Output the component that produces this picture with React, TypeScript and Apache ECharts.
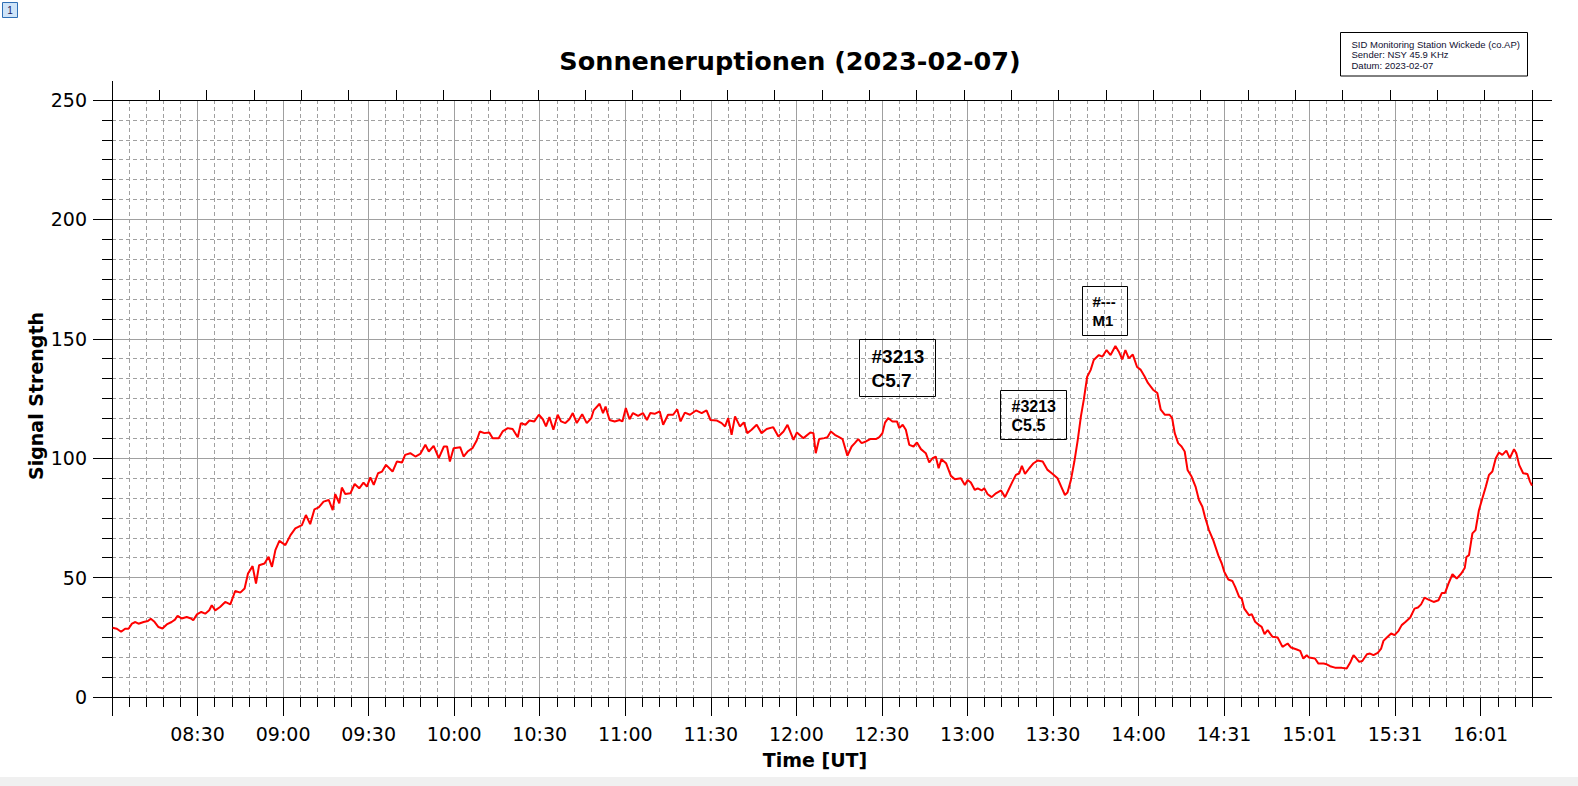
import React, { useEffect, useRef } from "react";
import * as echarts from "echarts";

// minutes after 08:00 UT
const minutesSince0800 = [
  0.2, 1.7, 3.2, 4.6, 5.8, 7, 8.2, 9.3, 11.1, 12.6, 13.6, 14.9, 16.3, 17.7, 19.2, 20.9, 22.1, 23.0, 24.4, 26.2,
  27.7, 28.5, 29.8, 31.3, 32.7, 34.1, 35.0, 36.2, 37.9, 39.7, 41.5, 43.2, 45.0, 46.5, 47.7, 49.3, 50.5, 51.6, 53.5, 54.9,
  56.1, 57.3, 58.7, 60.8, 62.6, 64.3, 66.6, 68.0, 69.5, 71.0, 72.5, 74.2, 76.0, 77.4, 78.3, 79.7, 80.6, 81.8, 83.6, 85.1,
  86.7, 88.2, 89.4, 90.6, 91.8, 93.3, 94.7, 96.1, 98.4, 99.9, 101.7, 102.8, 104.6, 106.4, 108.1, 109.9, 111.1, 112.8, 114.6, 116.4,
  117.5, 118.5, 119.8, 122.1, 123.3, 124.7, 126.4, 127.9, 129.0, 130.6, 132.3, 133.5, 135.6, 137.0, 138.8, 140.5, 142.3, 143.4, 145.0, 146.4,
  148.1, 149.7, 151.1, 152.2, 153.4, 154.8, 156.3, 157.5, 159.0, 160.4, 161.6, 163.0, 164.9, 166.5, 168.1, 168.9, 171.0, 172.2, 173.1, 174.5,
  176.3, 178.0, 179.0, 180.2, 181.5, 182.7, 184.5, 186.2, 187.6, 188.8, 190.3, 192.1, 193.3, 195.0, 196.8, 198.2, 199.4, 200.9, 202.7, 204.8,
  206.8, 208.5, 209.9, 212.0, 213.8, 215.0, 216.1, 217.3, 218.5, 220.2, 221.6, 222.8, 224.3, 226.1, 227.8, 229.6, 231.9, 233.7, 235.5, 236.9,
  239.0, 240.2, 242.5, 244.9, 246.0, 246.8, 248.0, 249.8, 250.9, 252.1, 253.5, 255.0, 256.2, 257.9, 259.4, 260.5, 261.7, 262.9, 264.4, 265.9,
  267.9, 269.1, 270.2, 271.1, 272.2, 273.7, 275.3, 276.1, 277.3, 278.4, 279.6, 281.1, 282.3, 283.7, 285.4, 286.6, 287.8, 288.9, 289.9, 290.9,
  292.5, 294.2, 295.6, 297.7, 299.1, 300.1, 301.2, 302.6, 303.6, 305.0, 305.9, 307.1, 308.5, 310.0, 311.8, 313.2, 314.4, 315.8, 317.0, 318.2,
  319.1, 320.2, 321.7, 323.2, 324.6, 326.4, 328.1, 329.9, 331.6, 333.0, 334.2, 335.1, 336.3, 337.5, 338.7, 339.8, 340.8, 342.0, 343.2, 344.3,
  346.1, 347.3, 348.8, 350.2, 351.9, 353.1, 354.3, 355.4, 356.6, 358.0, 359.5, 360.7, 362.1, 363.3, 365.1, 366.6, 367.8, 369.2, 370.9, 371.8,
  372.7, 373.9, 375.1, 376.2, 377.2, 378.6, 380.0, 381.2, 382.4, 383.3, 384.7, 386.2, 388.0, 389.2, 390.1, 391.5, 392.9, 393.9, 395.3, 396.2,
  397.1, 398.8, 399.7, 400.9, 402.3, 403.2, 404.2, 405.3, 407.0, 408.8, 410.5, 412.3, 413.5, 415.5, 416.7, 417.8, 419.0, 419.8, 421.9, 423.1,
  424.9, 426.0, 427.2, 428.9, 431.3, 433.0, 434.2, 435.4, 436.2, 437.4, 438.5, 440.1, 441.2, 442.4, 443.9, 445.1, 445.9, 447.1, 448.6, 449.8,
  451.2, 452.3, 453.7, 455.3, 456.8, 458.0, 459.1, 460.3, 461.7, 463.5, 465.2, 466.4, 467.5, 468.7, 470.1, 471.6, 473.2, 474.4, 475.0, 475.9,
  477.1, 478.2, 479.4, 480.6, 481.8, 482.9, 484.1, 485.3, 486.4, 487.6, 489.0, 490.2, 491.7, 492.5, 493.5, 494.9, 496.4, 497.3, 498.0,
];

const signalStrength = [
  29, 28.6, 27.3, 28.6, 28.6, 30.7, 31.4, 30.7, 31.4, 31.8, 32.8, 31.5, 29.3, 28.7, 30.4, 31.4, 32.4, 34, 32.9, 33.5,
  32.9, 32.1, 34.6, 35.6, 34.9, 36.3, 38.4, 36.3, 37.7, 39.8, 38.8, 44.4, 43.7, 45.4, 51.7, 54.8, 47.5, 55.2, 55.9, 58.7,
  54.5, 61.5, 65.4, 63.6, 67.8, 70.6, 72, 76.2, 72.4, 78.6, 79.4, 81.8, 82.5, 78.3, 85, 81.1, 87.7, 85, 85.3, 89.2,
  87.4, 89.8, 88.1, 92, 88.8, 93.7, 94.4, 97.2, 94.4, 98.6, 98.2, 101.4, 102.1, 100.7, 101.8, 105.6, 102.8, 105.2, 100, 104.9,
  104.9, 98.6, 104.2, 104.6, 100.7, 102.8, 104.2, 107.4, 111.2, 110.5, 110.8, 108.4, 108.4, 111.2, 112.6, 112.2, 108.8, 114.7, 114, 115.8,
  115.4, 118.2, 116.3, 113.3, 117.2, 111.9, 118.2, 115.4, 114.7, 116.3, 118.9, 114.7, 118.4, 114.7, 116.8, 120, 122.8, 118.9, 121.6, 116,
  115.4, 116, 115.4, 121, 116.3, 118.9, 117.7, 118.9, 116, 118.9, 118.6, 119.6, 114, 118.2, 118.2, 120.5, 115.4, 119.1, 118.2, 120,
  118.9, 120, 116, 115.8, 114.7, 113.3, 116.8, 109.8, 117.5, 113.3, 115, 110.5, 111.9, 114, 110.5, 112.2, 113, 109.1, 111.2, 114,
  107.7, 110.8, 108.4, 110.8, 110.5, 102.1, 108, 108.4, 108.8, 111.2, 109.8, 108.8, 108, 101, 104.9, 106.3, 108, 106.3, 107, 108,
  108, 108.8, 110.5, 114.9, 116.8, 115.4, 115.4, 112.6, 114, 111.9, 105.6, 104.9, 106.6, 103.8, 102.1, 98.2, 100, 100.7, 95.8, 99.6,
  97.9, 92.6, 91.2, 91.6, 88.8, 90.9, 89.8, 86.7, 87.4, 86.5, 87.4, 84.9, 83.7, 85.3, 86.5, 83.7, 86.7, 90.2, 93, 93.7,
  96.8, 93.4, 95.8, 97.9, 99, 98.6, 95.1, 93.4, 91.6, 87.8, 84.6, 85.6, 90.9, 98.6, 107.7, 117.5, 124.4, 134.1, 136.9, 141.1,
  143.2, 142.5, 145.3, 143.2, 147, 144.6, 141.4, 145.3, 141.8, 143.4, 138.2, 137.1, 134.3, 131.5, 128.7, 127.3, 120.3, 118.2, 118.2, 116.8,
  110.5, 106.3, 104.9, 102.8, 95.1, 92.3, 88.1, 82.5, 79.7, 75.5, 69.9, 65.7, 59.3, 55.9, 52.4, 49.2, 48.6, 46.1, 41.9, 41.2,
  37, 34.2, 34.7, 31.5, 30.1, 29.4, 26.3, 28, 25.2, 24.9, 21, 22.4, 20.7, 19.9, 19.3, 16.1, 17.5, 16.5, 16.1, 14,
  14, 13.7, 12.9, 12.3, 12.2, 11.9, 14.3, 17.5, 16.5, 14.7, 15.1, 17.9, 18.2, 17.5, 18.5, 20.3, 23.5, 24.9, 26.6, 25.9,
  27.7, 30.1, 31.5, 33.3, 37, 37.5, 38.8, 41.6, 40.8, 39.8, 40.5, 43.6, 43.6, 47.5, 51.4, 49.6, 51.7, 54, 58.6, 59.4,
  68.5, 69.9, 78.3, 83.2, 88.1, 93, 94.4, 100, 102.4, 101.4, 103.2, 100, 103.8, 102.1, 97.2, 93.7, 93.4, 90.2, 88.5,
];

// bottom axis labels, one per 30 minutes starting at 08:30
const xTickLabels = [
  "08:30", "09:00", "09:30", "10:00", "10:30", "11:00", "11:30", "12:00",
  "12:30", "13:00", "13:30", "14:00", "14:31", "15:01", "15:31", "16:01",
];
const xTickValues = xTickLabels.map((_, i) => (i + 1) * 30);
const xMajorTicks = [0, ...xTickValues];

// flare annotation boxes (anchor = top-left corner in data coordinates)
const annotationTimes = [262, 311.3, 340.1];
const annotationValues = [150, 128.6, 172.2];
const annotationLine1 = ["#3213", "#3213", "#---"];
const annotationLine2 = ["C5.7", "C5.5", "M1"];

const infoLines = [
  "SID Monitoring Station Wickede (co.AP)",
  "Sender: NSY 45.9 KHz",
  "Datum: 2023-02-07",
];

const TITLE = "Sonneneruptionen (2023-02-07)";
const Y_NAME = "Signal Strength";
const X_NAME = "Time [UT]";

const BOX_LAYOUT = [
  { w: 76, h: 57, fs: 19, pad: 12, l1: 17, l2: 41 },
  { w: 66, h: 49, fs: 16, pad: 11, l1: 16, l2: 35 },
  { w: 45, h: 49, fs: 15, pad: 10, l1: 15, l2: 34 },
];

const GRID_COLOR = "#a0a0a0";
const DASH = [4, 3];
const FONT = "DejaVu Sans";

export default function App() {
  const ref = useRef<HTMLDivElement>(null);

  useEffect(() => {
    if (!ref.current) return;
    const chart = echarts.init(ref.current, undefined, { renderer: "svg" });
    const data = minutesSince0800.map((t, i) => [t, signalStrength[i]]);

    const axisLine = { show: true, onZero: false, lineStyle: { color: "#000", width: 1 } };
    const solidSplit = {
      show: true,
      showMinLine: false,
      showMaxLine: false,
      lineStyle: { color: GRID_COLOR, width: 1, type: "solid" },
    };
    const dashedSplit = {
      show: true,
      showMinLine: false,
      showMaxLine: false,
      lineStyle: { color: GRID_COLOR, width: 1, type: DASH },
    };

    chart.setOption({
      animation: false,
      backgroundColor: "#ffffff",
      grid: { left: 112, right: 46, top: 100, bottom: 89, containLabel: false },
      xAxis: [
        {
          type: "value",
          min: 0,
          max: 498,
          interval: 30,
          position: "bottom",
          axisLine,
          axisTick: { show: true, length: 19, customValues: xMajorTicks, lineStyle: { color: "#000" } },
          axisLabel: {
            show: true,
            customValues: xTickValues,
            margin: 27,
            fontFamily: FONT,
            fontSize: 19,
            color: "#000",
            formatter: (v: number) => xTickLabels[Math.round(v / 30) - 1] ?? "",
          },
          splitLine: solidSplit,
          z: 3,
        },
        {
          type: "value",
          min: 0,
          max: 498,
          interval: 6,
          position: "bottom",
          axisLine,
          axisTick: { show: true, length: 10, lineStyle: { color: "#000" } },
          axisLabel: { show: false },
          splitLine: dashedSplit,
          z: 2,
        },
        {
          type: "value",
          min: 0,
          max: 30,
          interval: 1,
          position: "top",
          axisLine,
          axisTick: { show: true, length: 10, lineStyle: { color: "#000" } },
          axisLabel: { show: false },
          splitLine: { show: false },
          z: 6,
        },
        {
          type: "value",
          min: 0,
          max: 30,
          interval: 1,
          position: "top",
          axisLine: { show: false, onZero: false },
          axisTick: { show: true, length: 19, customValues: [0], lineStyle: { color: "#000" } },
          axisLabel: { show: false },
          splitLine: { show: false },
          z: 6,
        },
      ],
      yAxis: [
        {
          type: "value",
          min: 0,
          max: 250,
          interval: 50,
          position: "left",
          axisLine,
          axisTick: { show: true, length: 19, lineStyle: { color: "#000" } },
          minorTick: { show: true, splitNumber: 6, length: 10, lineStyle: { color: "#000" } },
          axisLabel: { show: true, margin: 25, fontFamily: FONT, fontSize: 19, color: "#000" },
          splitLine: solidSplit,
          minorSplitLine: { show: true, lineStyle: { color: GRID_COLOR, width: 1, type: DASH } },
          z: 5,
        },
        {
          type: "value",
          min: 0,
          max: 250,
          interval: 50,
          position: "right",
          axisLine,
          axisTick: { show: true, length: 20, lineStyle: { color: "#000" } },
          minorTick: { show: true, splitNumber: 6, length: 11, lineStyle: { color: "#000" } },
          axisLabel: { show: false },
          splitLine: { show: false },
          z: 6,
        },
      ],
      series: [
        {
          type: "line",
          xAxisIndex: 0,
          yAxisIndex: 0,
          data,
          showSymbol: false,
          symbol: "none",
          lineStyle: { color: "#ff0000", width: 2 },
          z: 10,
        },
      ],
    });

    const elements: any[] = [];
    // page chrome: small page-number box and bottom strip
    elements.push({
      type: "rect",
      shape: { x: 2.5, y: 2.5, width: 15, height: 15 },
      style: { fill: "#cfe4f8", stroke: "#2f6fb5", lineWidth: 1 },
    });
    elements.push({
      type: "text",
      x: 10,
      y: 10.5,
      style: { text: "1", fontSize: 10, fontFamily: "Liberation Sans", fill: "#202060", align: "center", verticalAlign: "middle" },
    });
    elements.push({
      type: "rect",
      shape: { x: 0, y: 777, width: 1578, height: 9 },
      style: { fill: "#f0f0f0" },
    });
    // title and axis names
    elements.push({
      type: "text",
      x: 790,
      y: 61,
      style: { text: TITLE, fontSize: 25.5, fontWeight: "bold", fontFamily: FONT, fill: "#000", align: "center", verticalAlign: "middle" },
    });
    elements.push({
      type: "text",
      x: 36,
      y: 396,
      rotation: Math.PI / 2,
      style: { text: Y_NAME, fontSize: 19, fontWeight: "bold", fontFamily: FONT, fill: "#000", align: "center", verticalAlign: "middle" },
    });
    elements.push({
      type: "text",
      x: 815,
      y: 760,
      style: { text: X_NAME, fontSize: 19, fontWeight: "bold", fontFamily: FONT, fill: "#000", align: "center", verticalAlign: "middle" },
    });
    // info box
    elements.push({
      type: "rect",
      shape: { x: 1340.5, y: 32.5, width: 187, height: 43.5 },
      style: { fill: "#fff", stroke: "#000", lineWidth: 1 },
    });
    infoLines.forEach((line, i) => {
      elements.push({
        type: "text",
        x: 1351.5,
        y: 44 + i * 10.5,
        style: { text: line, fontSize: 9.5, fontFamily: "Liberation Sans", fill: "#101030", align: "left", verticalAlign: "middle" },
      });
    });
    // flare annotations
    annotationTimes.forEach((t, i) => {
      const p = chart.convertToPixel({ xAxisIndex: 0, yAxisIndex: 0 } as any, [t, annotationValues[i]]) as number[];
      const L = BOX_LAYOUT[i];
      const x0 = Math.round(p[0]) + 0.5;
      const y0 = Math.round(p[1]) + 0.5;
      elements.push({
        type: "rect",
        z: 20,
        shape: { x: x0, y: y0, width: L.w, height: L.h },
        style: { fill: "rgba(255,255,255,0)", stroke: "#000", lineWidth: 1 },
      });
      [annotationLine1[i], annotationLine2[i]].forEach((txt, j) => {
        elements.push({
          type: "text",
          z: 21,
          x: x0 + L.pad,
          y: y0 + (j === 0 ? L.l1 : L.l2),
          style: { text: txt, fontSize: L.fs, fontWeight: "bold", fontFamily: "Liberation Sans", fill: "#000", align: "left", verticalAlign: "middle" },
        });
      });
    });

    chart.setOption({ graphic: { elements } });

    return () => chart.dispose();
  }, []);

  return (
    <div
      ref={ref}
      style={{ position: "fixed", left: 0, top: 0, width: 1578, height: 786, background: "#fff" }}
    />
  );
}
